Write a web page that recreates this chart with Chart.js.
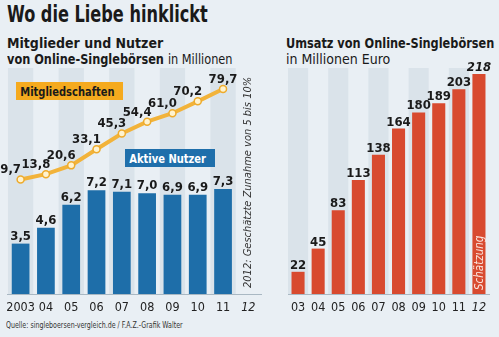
<!DOCTYPE html>
<html>
<head>
<meta charset="utf-8">
<script src="https://cdn.jsdelivr.net/npm/chart.js@4"></script>
<style>
  body { margin: 0; width: 499px; height: 337px; background: #e9eff4; overflow: hidden; position: relative;
         font-family: "DejaVu Sans Condensed", "DejaVu Sans", sans-serif; color: #1a1a1a; }
  .t { position: absolute; white-space: nowrap; transform-origin: left top; }
  #title { left: 7px; top: 1px; font-size: 23px; font-weight: bold; transform: scaleX(0.78); }
  .sub { font-size: 14px; font-weight: bold; line-height: 16px; }
  .reg { font-weight: normal; }
  #subL1 { left: 7px; top: 35px; }
  #subL2 { left: 7px; top: 51px; transform: scaleX(0.9); }
  #subR1 { left: 286px; top: 35px; transform: scaleX(0.9); }
  #subR2 { left: 286px; top: 51px; font-weight: normal; }
  #src { left: 6px; top: 320px; font-size: 9px; color: #333; transform: scaleX(0.78); }
  .tag { position: absolute; height: 18px; line-height: 18px; white-space: nowrap; overflow: hidden; }
  .tag span { display: inline-block; font-size: 13px; font-weight: bold; transform: scaleX(0.85); transform-origin: left center; padding-left: 5px; }
  #tagM { left: 16px; top: 82px; width: 107px; background: #f5aa1e; color: #1a1a1a; }
  #tagA { left: 125px; top: 149px; width: 90px; background: #1f6fab; color: #fff; }
  .wrap { position: absolute; top: 0; height: 337px; }
</style>
</head>
<body>
<div class="t" id="title">Wo die Liebe hinklickt</div>
<div class="t sub" id="subL1">Mitglieder und Nutzer</div>
<div class="t sub" id="subL2">von Online-Singlebörsen <span class="reg">in Millionen</span></div>
<div class="t sub" id="subR1">Umsatz von Online-Singlebörsen</div>
<div class="t sub" id="subR2">in Millionen Euro</div>
<div class="t" id="src">Quelle: singleboersen-vergleich.de / F.A.Z.-Grafik Walter</div>

<div class="wrap" style="left:0;width:270px"><canvas id="leftChart"></canvas></div>
<div class="wrap" style="left:265px;width:234px"><canvas id="rightChart"></canvas></div>

<div class="tag" id="tagM"><span>Mitgliedschaften</span></div>
<div class="tag" id="tagA"><span>Aktive Nutzer</span></div>

<script>
// data
const yearsLeft = ["2003", "04", "05", "06", "07", "08", "09", "10", "11", "12"];
const yearsRight = ["03", "04", "05", "06", "07", "08", "09", "10", "11", "12"];
const mitglieder = [9.7, 13.8, 20.6, 33.1, 45.3, 54.4, 61.0, 70.2, 79.7, null];
const aktiveNutzer = [3.5, 4.6, 6.2, 7.2, 7.1, 7.0, 6.9, 6.9, 7.3, null];
const umsatz = [22, 45, 83, 113, 138, 164, 180, 189, 203, 218];
const noteText = "2012: Geschätzte Zunahme von 5 bis 10%";

const FONT = '"DejaVu Sans Condensed", "DejaVu Sans", sans-serif';
const bandColor = "#dae3ea";

function fmt(v) {
  return v.toFixed(1).replace(".", ",");
}

// alternating background bands
const bandsPlugin = {
  id: "bands",
  beforeDatasetsDraw(chart) {
    const { ctx, chartArea, scales } = chart;
    const x = scales.x;
    const w = x.width / chart.data.labels.length;
    ctx.save();
    ctx.fillStyle = bandColor;
    for (let i = 0; i < chart.data.labels.length; i += 2) {
      const cx = x.getPixelForValue(i);
      ctx.fillRect(cx - w / 2, chartArea.top, w, chartArea.bottom - chartArea.top);
    }
    ctx.restore();
  }
};

// value labels for the left chart
const leftLabels = {
  id: "leftLabels",
  afterDatasetsDraw(chart) {
    const ctx = chart.ctx;
    ctx.save();
    ctx.fillStyle = "#1a1a1a";
    ctx.font = "bold 13px " + FONT;
    ctx.textAlign = "center";

    const lineMeta = chart.getDatasetMeta(0);
    lineMeta.data.forEach((pt, i) => {
      const v = mitglieder[i];
      if (v == null) return;
      const last = i === mitglieder.length - 2;
      ctx.fillText(fmt(v), pt.x + (last ? 0 : -10), pt.y - 6);
    });

    const barMeta = chart.getDatasetMeta(1);
    barMeta.data.forEach((bar, i) => {
      const v = aktiveNutzer[i];
      if (v == null) return;
      ctx.fillText(fmt(v), bar.x, bar.y - 4);
    });

    // rotated note in the 2012 column
    const x12 = chart.scales.x.getPixelForValue(9);
    ctx.translate(x12 + 3, chart.chartArea.bottom - 6);
    ctx.rotate(-Math.PI / 2);
    ctx.textAlign = "left";
    ctx.font = "italic 11px " + FONT;
    ctx.fillStyle = "#333";
    ctx.fillText(noteText, 0, 0);
    ctx.restore();
  }
};

// value labels for the right chart
const rightLabels = {
  id: "rightLabels",
  afterDatasetsDraw(chart) {
    const ctx = chart.ctx;
    ctx.save();
    ctx.fillStyle = "#1a1a1a";
    ctx.textAlign = "center";
    const meta = chart.getDatasetMeta(0);
    meta.data.forEach((bar, i) => {
      const last = i === umsatz.length - 1;
      ctx.font = (last ? "italic " : "") + "bold 13px " + FONT;
      ctx.fillText(String(umsatz[i]), bar.x, bar.y - 3);
    });
    // "Schätzung" inside the last bar
    const b = meta.data[umsatz.length - 1];
    ctx.translate(b.x + 4, chart.chartArea.bottom - 4);
    ctx.rotate(-Math.PI / 2);
    ctx.textAlign = "left";
    ctx.fillStyle = "#fbe3dc";
    ctx.font = "italic 11.5px " + FONT;
    ctx.fillText("Schätzung", 0, 0);
    ctx.restore();
  }
};

function tickFont(c) {
  return { family: FONT, size: 12.5, style: c.index === 9 ? "italic" : "normal" };
}

const xAxis = {
  grid: { display: false, drawTicks: false },
  border: { color: "#a9b8c3", width: 1 },
  ticks: { color: "#222", font: tickFont, padding: 6, maxRotation: 0, autoSkip: false }
};

new Chart(document.getElementById("leftChart"), {
  data: {
    labels: yearsLeft,
    datasets: [{
      type: "line",
      label: "Mitgliedschaften",
      data: mitglieder,
      yAxisID: "y2",
      borderColor: "#f2b33a",
      borderWidth: 4,
      pointRadius: 3.5,
      pointBackgroundColor: "#fff3cf",
      pointBorderColor: "#eeab2c",
      pointBorderWidth: 1.5,
      tension: 0
    }, {
      type: "bar",
      label: "Aktive Nutzer",
      data: aktiveNutzer,
      yAxisID: "y",
      backgroundColor: "#1e6ea9",
      barPercentage: 0.7,
      categoryPercentage: 1
    }]
  },
  options: {
    responsive: true,
    maintainAspectRatio: false,
    animation: false,
    layout: { padding: { left: 6, right: 9, top: 68, bottom: 16 } },
    plugins: { legend: { display: false }, tooltip: { enabled: false } },
    scales: {
      x: xAxis,
      y: { display: false, min: 0, max: 15.7 },
      y2: { display: false, min: -79, max: 96 }
    }
  },
  plugins: [bandsPlugin, leftLabels]
});

new Chart(document.getElementById("rightChart"), {
  type: "bar",
  data: {
    labels: yearsRight,
    datasets: [{
      label: "Umsatz",
      data: umsatz,
      backgroundColor: "#d84a2f",
      barPercentage: 0.65,
      categoryPercentage: 1
    }]
  },
  options: {
    responsive: true,
    maintainAspectRatio: false,
    animation: false,
    layout: { padding: { left: 23, right: 10, top: 68, bottom: 16 } },
    plugins: { legend: { display: false }, tooltip: { enabled: false } },
    scales: {
      x: xAxis,
      y: { display: false, min: 0, max: 224 }
    }
  },
  plugins: [bandsPlugin, rightLabels]
});
</script>
</body>
</html>
